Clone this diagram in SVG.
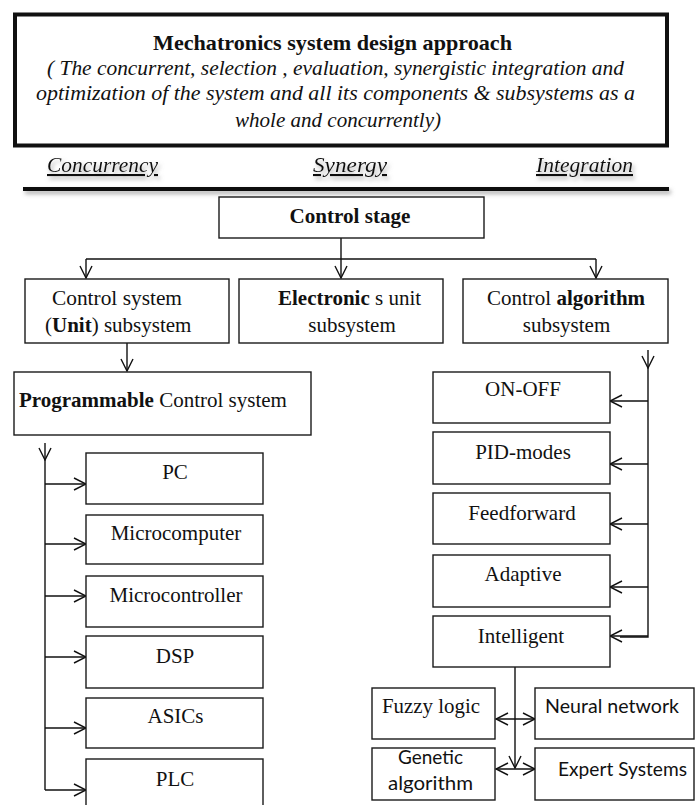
<svg xmlns="http://www.w3.org/2000/svg" width="697" height="805" viewBox="0 0 697 805">
<style>
  .box { fill: #ffffff; stroke: #1a1a1a; stroke-width: 1.4; }
  .serif { font-family: 'Liberation Serif', 'DejaVu Serif', serif; font-size: 21px; fill: #111; }
  .sans { font-family: Lato, 'Liberation Sans', sans-serif; font-size: 19px; fill: #111; }
  .b { font-weight: bold; }
  .it { font-style: italic; }
  .c { text-anchor: middle; }
  .conn { fill: none; stroke: #111; stroke-width: 1.4; }
  .arr { marker-end: url(#arrow); }
  .dbl { marker-start: url(#arrow); marker-end: url(#arrow); }
</style>
<defs>
  <marker id="arrow" viewBox="-1 -7 14 14" refX="12" refY="0" markerWidth="14" markerHeight="14" markerUnits="userSpaceOnUse" orient="auto-start-reverse">
    <path d="M0,-6 L12,0 L0,6" fill="none" stroke="#111" stroke-width="1.4"/>
  </marker>
  <filter id="shadow" x="-10%" y="-50%" width="120%" height="250%">
    <feDropShadow dx="2" dy="3" stdDeviation="2" flood-color="#777" flood-opacity="0.6"/>
  </filter>
</defs>
<rect width="697" height="805" fill="#ffffff"/>

<g id="header">
  <rect x="15" y="14.5" width="652" height="131" fill="#fff" stroke="#111" stroke-width="4"/>
  <text class="serif b c" font-family="Liberation Serif, serif" x="332.5" y="50" textLength="359" lengthAdjust="spacingAndGlyphs">Mechatronics  system design  approach</text>
  <text class="serif it c" font-family="Liberation Serif, serif" x="335.5" y="75" font-size="19" textLength="577" lengthAdjust="spacingAndGlyphs">( The concurrent, selection , evaluation, synergistic integration and</text>
  <text class="serif it c" font-family="Liberation Serif, serif" x="335.5" y="100" font-size="19" textLength="599" lengthAdjust="spacingAndGlyphs">optimization of the  system and all its components &amp; subsystems as a</text>
  <text class="serif it c" font-family="Liberation Serif, serif" x="338" y="127" font-size="19" textLength="206" lengthAdjust="spacingAndGlyphs">whole and concurrently)</text>
</g>

<g id="themes" filter="url(#shadow)">
  <text class="serif it" x="47" y="172" textLength="111" lengthAdjust="spacingAndGlyphs" text-decoration="underline">Concurrency</text>
  <text class="serif it" x="313" y="172" textLength="74" lengthAdjust="spacingAndGlyphs" text-decoration="underline">Synergy</text>
  <text class="serif it" x="536" y="172" textLength="97" lengthAdjust="spacingAndGlyphs" text-decoration="underline">Integration</text>
  <line x1="23" y1="189" x2="669" y2="189" stroke="#111" stroke-width="4"/>
</g>

<g id="connectors">
  <path class="conn arr" d="M341,238 V278"/>
  <path class="conn" d="M86,259 H596"/>
  <path class="conn arr" d="M86,259 V278"/>
  <path class="conn arr" d="M596,259 V278"/>
  <path class="conn arr" d="M127,343 V371"/>
  <path class="conn arr" d="M648,350 V368"/>
  <path class="conn" d="M648,368 V637 H620"/>
  <path class="conn arr" d="M648,401 H610"/>
  <path class="conn arr" d="M648,464 H610"/>
  <path class="conn arr" d="M648,524 H610"/>
  <path class="conn arr" d="M648,587 H610"/>
  <path class="conn arr" d="M648,636 H610"/>
  <path class="conn arr" d="M45,443 V460"/>
  <path class="conn" d="M45,460 V790"/>
  <path class="conn arr" d="M45,484 H86"/>
  <path class="conn arr" d="M45,544 H86"/>
  <path class="conn arr" d="M45,596 H86"/>
  <path class="conn arr" d="M45,657 H86"/>
  <path class="conn arr" d="M45,728 H86"/>
  <path class="conn arr" d="M45,790 H86"/>
  <path class="conn arr" d="M515,667 V768"/>
  <path class="conn dbl" d="M496,719 H535"/>
  <path class="conn dbl" d="M496,769 H535"/>
</g>

<g id="control-stage">
  <rect class="box" x="219" y="197" width="265" height="41"/>
  <text class="serif b c" x="350" y="223" textLength="121" lengthAdjust="spacingAndGlyphs">Control stage</text>
</g>

<g id="control-system-unit">
  <rect class="box" x="25" y="279" width="204" height="64"/>
  <text class="serif" x="52" y="305" textLength="130" lengthAdjust="spacingAndGlyphs">Control system</text>
  <text class="serif" x="45" y="332">(<tspan class="b">Unit</tspan>) subsystem</text>
</g>

<g id="electronics-unit">
  <rect class="box" x="239" y="279" width="204" height="64"/>
  <text class="serif" x="278" y="305"><tspan class="b">Electronic</tspan> s unit</text>
  <text class="serif c" x="352" y="332">subsystem</text>
</g>

<g id="control-algorithm">
  <rect class="box" x="463" y="279" width="205" height="64"/>
  <text class="serif" x="487" y="305">Control <tspan class="b">algorithm</tspan></text>
  <text class="serif c" x="566.5" y="332">subsystem</text>
</g>

<g id="programmable">
  <rect class="box" x="14" y="372" width="297" height="63"/>
  <text class="serif" x="19" y="407"><tspan class="b">Programmable</tspan>  Control system</text>
</g>

<g id="pc"><rect class="box" x="86" y="453" width="177" height="51"/><text class="serif c" x="175" y="479">PC</text></g>
<g id="microcomputer"><rect class="box" x="86" y="515" width="177" height="49"/><text class="serif c" x="176" y="540">Microcomputer</text></g>
<g id="microcontroller"><rect class="box" x="86" y="576" width="177" height="51"/><text class="serif c" x="176" y="602">Microcontroller</text></g>
<g id="dsp"><rect class="box" x="86" y="636" width="177" height="52"/><text class="serif c" x="175" y="663">DSP</text></g>
<g id="asics"><rect class="box" x="86" y="698" width="177" height="50"/><text class="serif c" x="175.5" y="723">ASICs</text></g>
<g id="plc"><rect class="box" x="86" y="759" width="177" height="60"/><text class="serif c" x="175" y="786">PLC</text></g>

<g id="on-off"><rect class="box" x="433" y="372" width="177" height="51"/><text class="serif c" x="523" y="396">ON-OFF</text></g>
<g id="pid-modes"><rect class="box" x="433" y="432" width="177" height="52"/><text class="serif c" x="523" y="459">PID-modes</text></g>
<g id="feedforward"><rect class="box" x="433" y="493" width="177" height="51"/><text class="serif c" x="522" y="520">Feedforward</text></g>
<g id="adaptive"><rect class="box" x="433" y="555" width="177" height="52"/><text class="serif c" x="523" y="581">Adaptive</text></g>
<g id="intelligent"><rect class="box" x="433" y="616" width="177" height="51"/><text class="serif c" x="521" y="643">Intelligent</text></g>

<g id="fuzzy-logic"><rect class="box" x="372" y="688" width="123" height="51"/><text class="serif" x="382" y="713" textLength="98" lengthAdjust="spacingAndGlyphs">Fuzzy logic</text></g>
<g id="neural-network"><rect class="box" x="535" y="688" width="159" height="51"/><text class="sans" x="545" y="713" textLength="134" lengthAdjust="spacingAndGlyphs">Neural network</text></g>
<g id="genetic-algorithm"><rect class="box" x="372" y="748" width="123" height="52"/><text class="sans c" x="430.5" y="764" textLength="65" lengthAdjust="spacingAndGlyphs">Genetic</text><text class="sans c" x="430.5" y="790" textLength="85" lengthAdjust="spacingAndGlyphs">algorithm</text></g>
<g id="expert-systems"><rect class="box" x="535" y="748" width="159" height="52"/><text class="sans" x="558" y="776" textLength="129" lengthAdjust="spacingAndGlyphs">Expert Systems</text></g>
</svg>
